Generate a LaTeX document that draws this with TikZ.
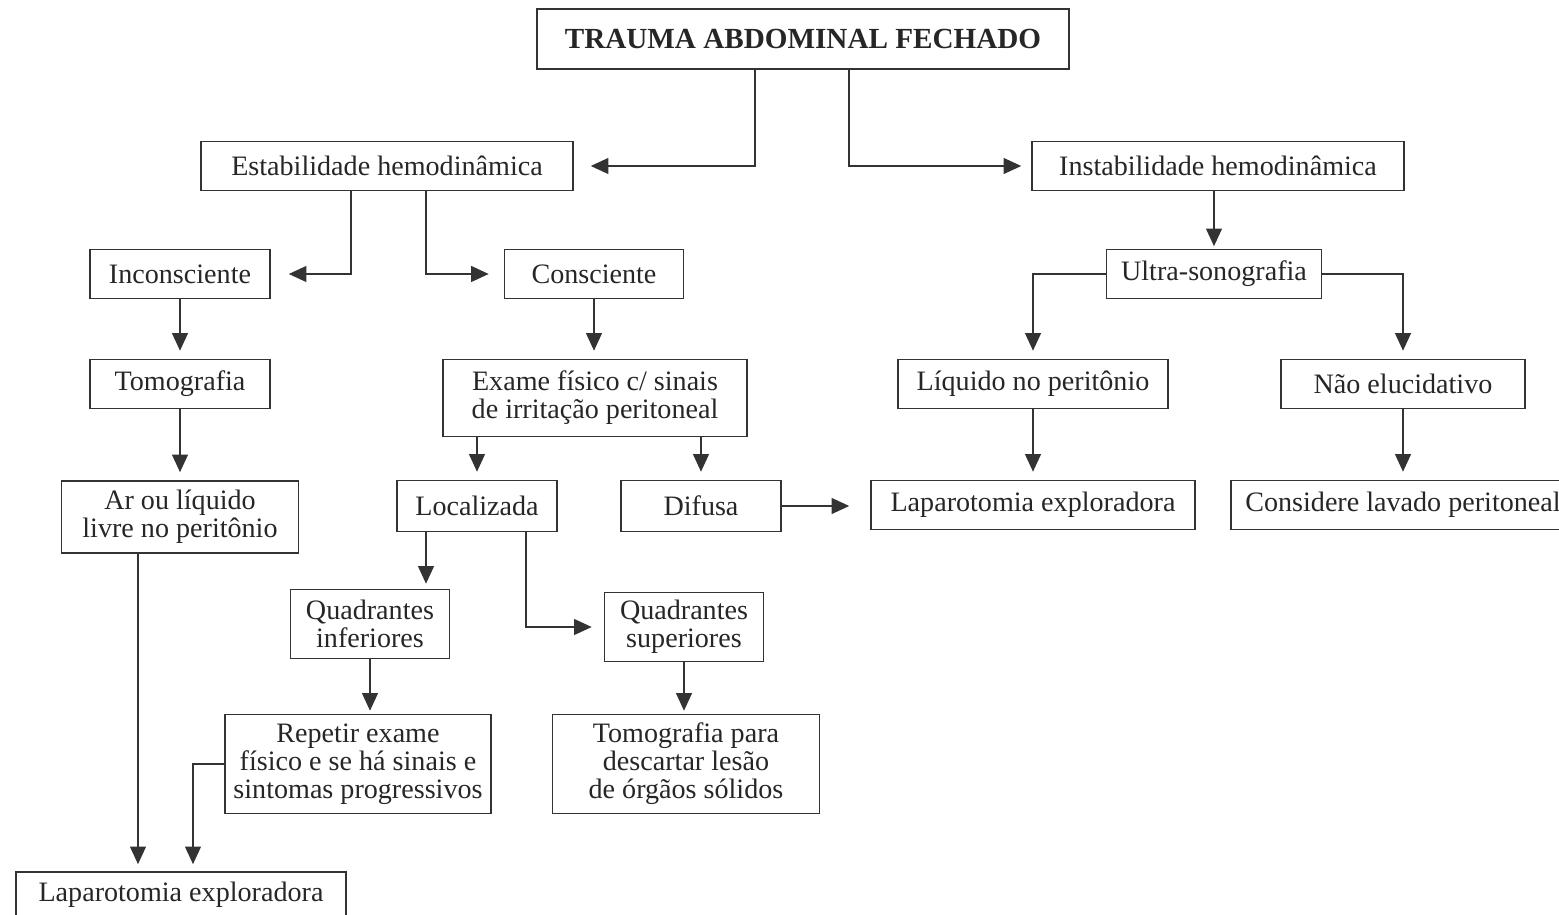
\documentclass[tikz,border=0pt]{standalone}
\usepackage{fontspec}
\setmainfont{Liberation Serif}
\usepackage{tikz}
\usetikzlibrary{arrows.meta,positioning,calc}
\tikzset{
  box/.style ={draw=black!80,line width=0.9pt,inner sep=0pt,align=center,
               text=black!85,font=\fontsize{16}{16}\selectfont},
  ttl/.style ={box,font=\fontsize{16.6}{17}\selectfont\bfseries},
  arr/.style ={draw=black!80,line width=0.9pt,
               -{Triangle[length=10pt,width=9pt]}},
}

\begin{document}
\begin{tikzpicture}[x=0.02cm,y=-0.02cm]
  \useasboundingbox (0,0) rectangle (1559,915);
  % nodes
  \node[ttl,minimum width=10.64cm,minimum height=1.2cm] (top) at (803,39) {TRAUMA ABDOMINAL FECHADO};
  \node[box,minimum width=7.44cm,minimum height=0.98cm] (estab) at (387,166) {Estabilidade hemodinâmica};
  \node[box,minimum width=7.44cm,minimum height=0.98cm] (instab) at (1218,166) {Instabilidade hemodinâmica};
  \node[box,minimum width=3.6cm,minimum height=0.98cm] (incons) at (180,274) {Inconsciente};
  \node[box,minimum width=3.58cm,minimum height=0.98cm] (cons) at (594,274) {Consciente};
  \node[box,minimum width=4.3cm,minimum height=0.98cm] (ultra) at (1214,274) {Ultra-sonografia};
  \node[box,minimum width=5.4cm,minimum height=0.98cm] (liq) at (1033,384) {Líquido no peritônio};
  \node[box,minimum width=4.88cm,minimum height=0.98cm] (nao) at (1403,384) {Não elucidativo};
  \node[box,minimum width=6.48cm,minimum height=0.98cm] (lapR) at (1033,505) {Laparotomia exploradora};
  \node[box,minimum width=6.88cm,minimum height=0.98cm] (lavado) at (1403,505) {Considere lavado peritoneal};
  \node[box,minimum width=3.6cm,minimum height=0.98cm] (tomo) at (180,384) {Tomografia};
  \node[box,minimum width=4.74cm,minimum height=1.44cm] (ar) at (180,517) {Ar ou líquido\\livre no peritônio};
  \node[box,minimum width=6.08cm,minimum height=1.54cm] (exame) at (595,398) {Exame físico c/ sinais\\de irritação peritoneal};
  \node[box,minimum width=3.2cm,minimum height=1.02cm] (local) at (477,506) {Localizada};
  \node[box,minimum width=3.2cm,minimum height=1.02cm] (difusa) at (701,506) {Difusa};
  \node[box,minimum width=3.18cm,minimum height=1.38cm] (quadinf) at (370,624) {Quadrantes\\inferiores};
  \node[box,minimum width=3.18cm,minimum height=1.38cm] (quadsup) at (684,627) {Quadrantes\\superiores};
  \node[box,minimum width=5.32cm,minimum height=1.98cm] (repetir) at (358,764) {Repetir exame\\físico e se há sinais e\\sintomas progressivos};
  \node[box,minimum width=5.34cm,minimum height=1.98cm] (tomopara) at (686,764) {Tomografia para\\descartar lesão\\de órgãos sólidos};
  \node[box,minimum width=6.6cm,minimum height=0.92cm] (lapB) at (181,895) {Laparotomia exploradora};
  % connectors
  \draw[arr,shorten >=0.34cm] ($(top.south)+(-48,0)$) |- (estab.east);
  \draw[arr,shorten >=0.2cm] ($(top.south)+(46,0)$) |- (instab.west);
  \draw[arr,shorten >=0.36cm] ($(estab.south)+(-36,0)$) |- (incons.east);
  \draw[arr,shorten >=0.3cm] ($(estab.south)+(39,0)$) |- (cons.west);
  \draw[arr,shorten >=0.05cm] (ultra.north |- instab.south) -- (ultra.north);
  \draw[arr,shorten >=0.16cm] (ultra.west) -| (liq.north);
  \draw[arr,shorten >=0.16cm] (ultra.east) -| (nao.north);
  \draw[arr,shorten >=0.16cm] (liq.south) -- (lapR.north);
  \draw[arr,shorten >=0.16cm] (nao.south) -- (lavado.north);
  \draw[arr,shorten >=0.16cm] (incons.south) -- (tomo.north);
  \draw[arr,shorten >=0.16cm] (tomo.south) -- (ar.north);
  \draw[arr,shorten >=0.16cm] (cons.south) -- (cons.south |- exame.north);
  \draw[arr,shorten >=0.16cm] (exame.south -| local.north) -- (local.north);
  \draw[arr,shorten >=0.16cm] (exame.south -| difusa.north) -- (difusa.north);
  \draw[arr,shorten >=0.42cm] (difusa.east) -- (difusa.east -| lapR.west);
  \coordinate (li) at ($(local.south)+(-51,0)$);
  \coordinate (ls) at ($(local.south)+(49,0)$);
  \draw[arr,shorten >=0.1cm] (li) -- (li |- quadinf.north);
  \draw[arr,shorten >=0.24cm] (ls) |- (quadsup.west);
  \draw[arr,shorten >=0.06cm] (quadinf.south) -- (quadinf.south |- repetir.north);
  \draw[arr,shorten >=0.06cm] (quadsup.south) -- (quadsup.south |- tomopara.north);
  \draw[arr,shorten >=0.14cm] (repetir.west) -| ($(lapB.north)+(12,0)$);
  \coordinate (ab) at ($(ar.south)+(-42,0)$);
  \draw[arr,shorten >=0.14cm] (ab) -- (ab |- lapB.north);
\end{tikzpicture}
\end{document}
